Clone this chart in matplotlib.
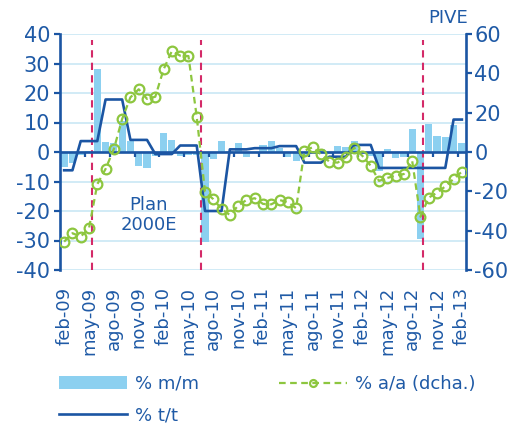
import matplotlib
matplotlib.use("Agg")
import matplotlib.pyplot as plt
from matplotlib.lines import Line2D
from matplotlib.patches import Patch

plt.rcParams["font.family"] = ["DejaVu Sans"]
plt.rcParams["axes.unicode_minus"] = False

# ---- data -------------------------------------------------------------
month_names = ["feb", "mar", "abr", "may", "jun", "jul", "ago", "sep", "oct", "nov", "dic", "ene"]
categories = []
for k in range(49):
    m = month_names[k % 12]
    yr = 9 + (k + 1) // 12
    categories.append(f"{m}-{yr:02d}")

tick_labels = ["feb-09", "may-09", "ago-09", "nov-09", "feb-10", "may-10", "ago-10",
               "nov-10", "feb-11", "may-11", "ago-11", "nov-11", "feb-12", "may-12",
               "ago-12", "nov-12", "feb-13"]

pct_mm = [-5.0, -3.6, -1.0, 0.3, 28.0, 3.5, 3.0, 10.5, 3.6, -4.8,
          -5.4, -1.2, 6.5, 4.2, -1.5, -1.0, -1.0, -30.5, -2.5, 3.8,
          0.5, 2.9, -1.8, -0.5, 2.5, 3.6, 1.5, -1.6, -3.2, -1.5,
          0.5, 1.0, -0.8, 2.2, 1.6, 3.8, 0.5, -1.5, -6.5, 0.9,
          -2.2, -1.8, 7.7, -29.5, 9.4, 5.5, 5.2, 9.1, 3.1]

pct_tt = [-6.2, -6.2, 3.7, 3.7, 3.7, 17.8, 17.8, 17.8, 4.1, 4.1,
          4.1, -0.7, -0.7, -0.7, 2.2, 2.2, 2.2, -20.0, -20.0, -20.0,
          0.9, 0.9, 0.9, 1.3, 1.3, 1.3, 2.0, 2.0, 2.0, -3.6,
          -3.6, -3.6, -1.6, -1.6, -1.6, 2.4, 2.4, 2.4, -5.4, -5.4,
          -5.4, -5.4, -5.4, -5.4, -5.4, -5.4, -5.4, 11.0, 11.0]

pct_aa = [-45.6, -41.3, -43.0, -38.8, -16.4, -8.6, 1.5, 16.8, 27.8, 31.9,
          27.0, 28.1, 42.0, 51.3, 49.0, 48.8, 18.0, -20.2, -24.0, -29.0,
          -32.0, -27.3, -24.4, -23.5, -26.4, -26.6, -24.4, -25.6, -28.6, 0.7,
          2.4, -1.2, -4.9, -5.4, -2.7, 2.2, -2.0, -7.0, -14.7, -13.2,
          -12.0, -11.2, -4.4, -32.9, -23.2, -20.7, -17.5, -13.7, -10.0]

event_positions = [3.35, 16.5, 43.35]   # plan start / end, PIVE start (category units)

# ---- style ------------------------------------------------------------
DARK = "#1B55A3"
TEXT = "#1F5AA6"
BAR = "#8CD0F0"
GREEN = "#8DC63F"
RED = "#D42A68"
GRID = "#C5E5F4"
FS = 13

fig = plt.figure(figsize=(5.15, 4.28), dpi=100)
ax = fig.add_axes([60 / 515, 1 - 270 / 428, 406 / 515, 236 / 428])
ax2 = ax.twinx()

x = list(range(len(categories)))

ax.set_axisbelow(True)
ax.yaxis.grid(True, color=GRID, linewidth=1.1)
ax.bar(x, pct_mm, width=0.85, color=BAR, zorder=2)
for p in event_positions:
    ax.axvline(p, ymin=0, ymax=0.975, color=RED, linestyle=(0, (3.5, 2.5)),
               linewidth=1.5, zorder=3)
ax.axhline(0, color=DARK, linewidth=1.9, zorder=4)
ax.plot(x, pct_tt, color=DARK, linewidth=1.9, zorder=5)
stub_x = [2.5 + 3 * k for k in range(16)]
ax.vlines(stub_x, -1.6, 0, color=DARK, linewidth=1.6, zorder=4)

ax2.plot(x, pct_aa, color=GREEN, linestyle=(0, (3.0, 2.0)), linewidth=1.6,
         marker="o", markersize=7, markerfacecolor="none",
         markeredgecolor=GREEN, markeredgewidth=1.6, zorder=6)

ax.set_xlim(-0.5, 48.5)
ax.set_ylim(-40, 40)
ax2.set_ylim(-60, 60)
ax.set_yticks(range(-40, 41, 10))
ax2.set_yticks(range(-60, 61, 20))
ax.set_xticks(range(0, 49, 3))
ax.set_xticklabels(tick_labels, rotation=90, fontsize=FS, color=TEXT)
ax.tick_params(axis="x", length=0, pad=12)
ax.tick_params(axis="y", direction="out", length=4, width=1.6, color=DARK,
               labelsize=15, labelcolor=TEXT, pad=3)
ax2.tick_params(axis="y", direction="out", length=4, width=1.6, color=DARK,
                labelsize=15, labelcolor=TEXT, pad=2)

for a in (ax, ax2):
    a.spines["top"].set_visible(False)
    a.spines["bottom"].set_visible(False)
    a.spines["left"].set_color(DARK)
    a.spines["right"].set_color(DARK)
    a.spines["left"].set_linewidth(1.9)
    a.spines["right"].set_linewidth(1.9)
ax2.spines["left"].set_visible(False)
ax.spines["right"].set_visible(False)

ax.text(10.2, -21.5, "Plan\n2000E", ha="center", va="center", fontsize=FS,
        color=TEXT, linespacing=1.15, zorder=7)
fig.text(448 / 515, 1 - 18 / 428, "PIVE", ha="center", va="center",
         fontsize=FS, color=TEXT)

handles = [Patch(facecolor=BAR, edgecolor="none"),
           Line2D([0], [0], color=DARK, linewidth=1.9),
           Line2D([0], [0], color=GREEN, linestyle=(0, (3.0, 2.0)), linewidth=1.6,
                  marker="o", markersize=5, markerfacecolor="none",
                  markeredgecolor=GREEN, markeredgewidth=1.6)]
labels = ["% m/m", "% t/t", "% a/a (dcha.)"]
leg = fig.legend(handles, labels, loc="upper left",
                 bbox_to_anchor=(59 / 515, 1 - 375 / 428), ncol=2,
                 frameon=False, fontsize=FS, handlelength=3.75,
                 handletextpad=0.45, columnspacing=4.45, labelspacing=0.75,
                 borderpad=0, borderaxespad=0)
for t in leg.get_texts():
    t.set_color(TEXT)

fig.savefig("out.png", dpi=100)
